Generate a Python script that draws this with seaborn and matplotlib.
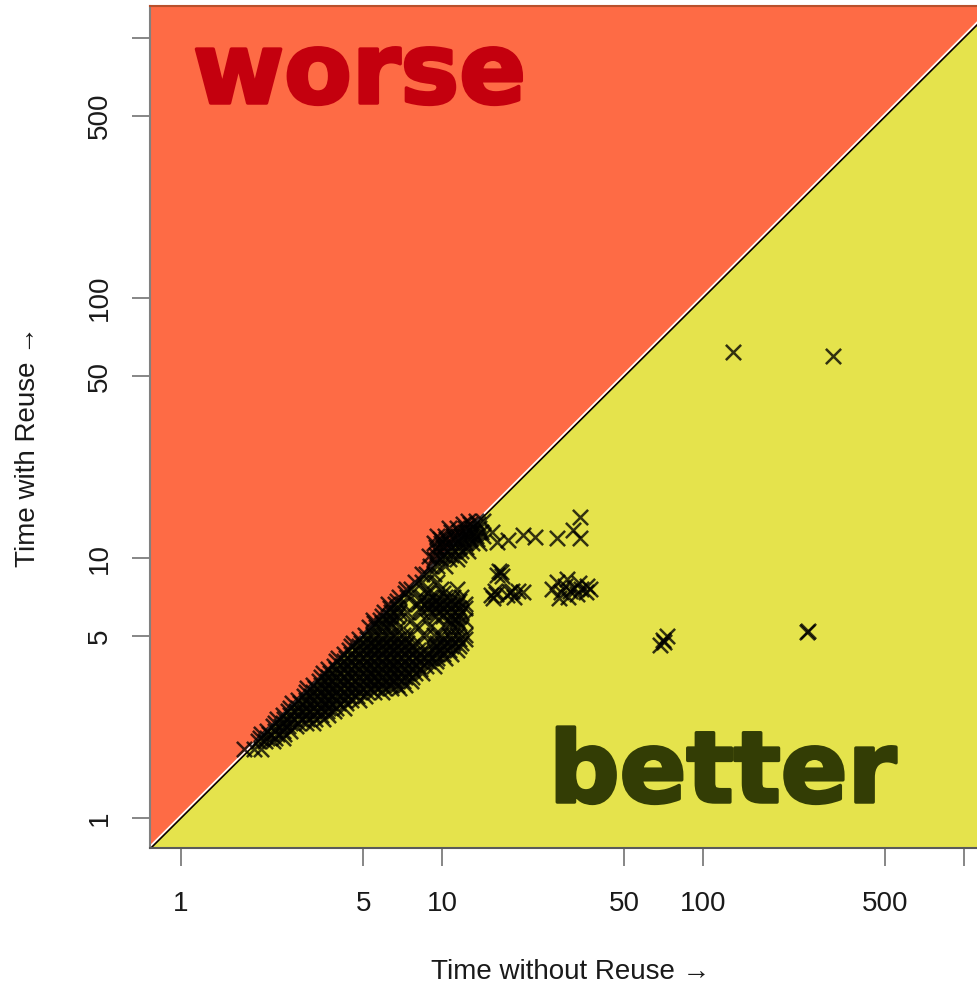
import matplotlib
matplotlib.use("Agg")
import matplotlib.pyplot as plt
from matplotlib import transforms
from matplotlib import patheffects
from matplotlib.ticker import FixedLocator, NullLocator
import pandas as pd
import seaborn as sns

# Solve times (seconds) of each benchmark run: (time without reuse, time with reuse).
# The dense band is listed row by row as (time with reuse, [times without reuse]).
cloud_low = [
    (1.85, [1.75, 1.9, 2.03]),
    (1.97, [1.97, 2.1, 2.25]),
    (2.03, [2.0, 2.14, 2.3, 2.45]),
    (2.1, [2.03, 2.17, 2.33, 2.49]),
    (2.17, [2.14, 2.3, 2.45, 2.62]),
    (2.25, [2.25, 2.41, 2.58, 2.76]),
    (2.33, [2.3, 2.45, 2.62, 2.8, 3.0, 3.2]),
    (2.41, [2.33, 2.49, 2.66, 2.85, 3.05, 3.26, 3.49]),
    (2.49, [2.45, 2.62, 2.8, 3.0, 3.2, 3.43, 3.67]),
    (2.58, [2.58, 2.76, 2.95, 3.15, 3.37, 3.61, 3.86]),
    (2.66, [2.62, 2.8, 3.0, 3.2, 3.43, 3.67, 3.93, 4.2]),
    (2.76, [2.66, 2.85, 3.05, 3.26, 3.49, 3.73, 4.0, 4.28]),
    (2.85, [2.8, 3.0, 3.2, 3.43, 3.67, 3.93, 4.2, 4.5, 4.8]),
    (2.95, [2.95, 3.15, 3.37, 3.61, 3.86, 4.13, 4.42, 4.73, 5.06]),
    (3.05, [3.0, 3.2, 3.43, 3.67, 3.93, 4.2, 4.5, 4.8, 5.15, 5.5, 5.9]),
    (3.15, [3.05, 3.26, 3.49, 3.73, 4.0, 4.28, 4.58, 4.9, 5.24, 5.6, 6.0, 6.4, 6.86]),
]

cloud_mid = [
    (3.26, [3.2, 3.43, 3.67, 3.93, 4.2, 4.5, 4.8, 5.15, 5.5, 5.9, 6.3, 6.75, 7.2]),
    (3.37, [3.37, 3.61, 3.86, 4.13, 4.42, 4.73, 5.06, 5.42, 5.8, 6.2, 6.63, 7.1, 7.6]),
    (3.49, [3.43, 3.67, 3.93, 4.2, 4.5, 4.8, 5.15, 5.5, 5.9, 6.3, 6.75, 7.2, 7.7]),
    (3.61, [3.49, 3.73, 4.0, 4.28, 4.58, 4.9, 5.24, 5.6, 6.0, 6.4, 6.86, 7.34, 7.85, 8.4]),
    (3.73, [3.67, 3.93, 4.2, 4.5, 4.8, 5.15, 5.5, 5.9, 6.3, 6.75, 7.2, 7.7, 8.25]),
    (3.86, [3.86, 4.13, 4.42, 4.73, 5.06, 5.42, 5.8, 6.2, 6.63, 7.1, 7.6, 8.1, 8.7, 9.3]),
    (4.0, [3.93, 4.2, 4.5, 4.8, 5.15, 5.5, 5.9, 6.3, 6.75, 7.2, 7.7, 8.25, 8.85, 9.45]),
    (4.13, [4.0, 4.28, 4.58, 4.9, 5.24, 5.6, 6.0, 6.4, 6.86, 7.34, 7.85, 8.4, 9.0, 9.6, 10.3]),
    (4.28, [4.2, 4.5, 4.8, 5.15, 5.5, 5.9, 6.3, 6.75, 7.2, 7.7, 8.25, 8.85, 9.45, 10.1, 10.8]),
    (4.42, [4.42, 4.73, 5.06, 5.42, 5.8, 6.2, 6.63, 7.1, 7.6, 8.1, 8.7, 9.3, 9.95, 10.6, 11.4]),
    (4.58, [4.5, 4.8, 5.15, 5.5, 5.9, 6.3, 6.75, 7.2, 7.7, 9.45, 10.1, 10.8, 11.6]),
    (4.73, [4.58, 4.9, 5.24, 5.6, 6.0, 6.4, 6.86, 7.34, 7.85, 9.0, 9.6, 10.3, 11.0, 11.8]),
    (4.9, [4.8, 5.15, 5.5, 5.9, 6.3, 6.75, 7.2, 10.1, 10.8, 11.6, 12.2]),
    (5.06, [5.06, 5.42, 5.8, 6.2, 6.63, 7.1, 7.6, 8.7, 9.3, 9.95, 10.6, 11.4, 12.2]),
]

cloud_upper = [
    (5.42, [5.24, 5.6, 6.0, 6.4, 6.86, 7.85, 9.0, 10.3, 11.0, 11.8]),
    (5.6, [5.5, 5.9, 6.3, 10.8, 11.6]),
    (5.8, [5.42, 5.8, 6.2, 6.63, 7.6, 8.7, 10.6, 11.4, 12.2]),
    (6.0, [5.9, 6.3, 6.75, 9.45, 10.1, 10.8, 11.6]),
    (6.2, [6.0, 6.4, 6.86, 7.34, 8.4, 9.0, 9.6, 10.3, 11.0, 11.8]),
    (6.4, [6.3, 6.75, 8.25, 8.85, 9.45, 10.1, 10.8, 11.6, 12.2]),
    (6.63, [6.2, 6.63, 7.1, 8.1, 8.7, 9.3, 9.95, 10.6, 11.4, 12.2]),
    (6.86, [6.75, 8.25, 8.85, 9.45, 10.1, 10.8, 11.6]),
    (7.1, [6.86, 7.34, 8.4, 9.0, 9.6, 10.3, 11.0, 11.8]),
    (7.34, [7.2, 8.85, 10.1]),
    (7.6, [7.3, 7.6, 8.7, 9.95, 11.4]),
    (8.1, [7.85, 8.4, 9.6]),
    (8.7, [8.4, 8.7, 9.3]),
    (9.3, [9.0, 9.6, 10.3]),
    (9.95, [9.3, 9.95, 10.6, 11.4]),
    (10.2, [8.9]),
    (10.3, [9.45, 10.1, 10.8, 11.6]),
    (10.6, [9.6, 10.3, 11.0, 11.8, 12.6]),
    (11.0, [9.45, 10.1, 10.8, 11.6, 12.4]),
    (11.4, [9.3, 9.95, 10.6, 11.4, 12.2, 13.0, 13.9]),
    (11.8, [9.8, 10.4, 11.2, 12.0, 12.8, 13.6]),
    (12.2, [9.6, 10.3, 11.0, 11.8, 12.6, 13.5, 14.4]),
    (12.6, [10.8, 11.6, 12.4, 13.2, 14.1]),
    (13.0, [10.6, 11.4, 12.2, 13.0, 13.9]),
    (13.5, [12.0, 12.8, 13.7]),
    (13.9, [12.6, 13.5, 14.4]),
]

right_strip = [
    (16.2, 11.5), (17.9, 11.7), (15.5, 12.6), (20.4, 12.3), (22.7, 12.0),
    (27.6, 11.9), (31.8, 12.8), (33.8, 14.4), (33.8, 11.9),
]

right_clusters = [
    (16.2, 8.6), (16.8, 8.8), (16.5, 8.9), (17.0, 8.5),
    (15.4, 7.2), (15.9, 7.5), (15.7, 7.0), (16.1, 7.3),
    (17.8, 7.2), (18.5, 7.5), (18.8, 7.1), (18.2, 7.4),
    (19.6, 7.5), (20.5, 7.4),
    (26.5, 7.6), (27.5, 8.1), (28.5, 7.4), (29.5, 7.8), (30.0, 8.3),
    (31.0, 7.5), (32.0, 7.7), (33.0, 7.3), (34.0, 7.6), (35.5, 7.4),
    (37.0, 7.6), (28.0, 7.0), (30.5, 7.1), (36.0, 7.8), (33.5, 8.0),
]

outliers = [
    (130, 62), (315, 59.8), (250, 5.19), (252, 5.25),
    (70.3, 4.84), (73.0, 5.0), (68.5, 4.63), (71.0, 4.75),
]

x_ticks = [1, 5, 10, 50, 100, 500, 1000]
x_tick_labels = ["1", "5", "10", "50", "100", "500", ""]
y_ticks = [1, 5, 10, 50, 100, 500, 1000]
y_tick_labels = ["1", "5", "10", "50", "100", "500", ""]

WORSE_RED = "#FE6B45"
BETTER_YELLOW = "#E5E34C"


def expand(rows):
    return [(x, y) for y, xs in rows for x in xs]


points = (expand(cloud_low) + expand(cloud_mid) + expand(cloud_upper)
          + right_strip + right_clusters + outliers)
df = pd.DataFrame(points, columns=["without_reuse", "with_reuse"])

sns.set_style("ticks")
plt.rcParams["font.family"] = ["Liberation Sans", "DejaVu Sans"]

fig = plt.figure(figsize=(9.78, 9.9), dpi=100)
ax = fig.add_axes([150 / 978, 1 - 848 / 990, 828 / 978, 842 / 990])
ax.set_xscale("log")
ax.set_yscale("log")

# regions above / below the identity line
lo, hi = 0.3, 5000
ax.fill([lo, hi, lo], [lo, hi, hi], color=WORSE_RED, lw=0, zorder=0)
ax.fill([lo, hi, hi], [lo, hi, lo], color=BETTER_YELLOW, lw=0, zorder=0)
ax.plot([lo, hi], [lo, hi], color="black", lw=1.2, zorder=1)
shift = transforms.ScaledTranslation(-1.3 / 100, 1.3 / 100, fig.dpi_scale_trans)
ax.plot([lo, hi], [lo, hi], color="white", lw=1.2, zorder=1,
        transform=ax.transData + shift)

sns.scatterplot(data=df, x="without_reuse", y="with_reuse", marker="x", s=120,
                color="black", alpha=0.78, linewidth=1.8, ax=ax, zorder=3,
                legend=False)

ax.set_xlim(0.7606, 1131.6)
ax.set_ylim(0.767, 1327)

ax.xaxis.set_major_locator(FixedLocator(x_ticks))
ax.xaxis.set_minor_locator(NullLocator())
ax.set_xticklabels(x_tick_labels)
ax.yaxis.set_major_locator(FixedLocator(y_ticks))
ax.yaxis.set_minor_locator(NullLocator())
ax.set_yticklabels(y_tick_labels)

ax.tick_params(direction="out", length=13, width=1.1, color="#666666",
               labelsize=20, labelcolor="#1a1a1a")
ax.tick_params(axis="x", pad=18)
ax.tick_params(axis="y", pad=14, labelrotation=90)
for lab in ax.get_yticklabels():
    lab.set_verticalalignment("center")

ax.spines["right"].set_visible(False)
ax.spines["left"].set_color("#808080")
ax.spines["left"].set_linewidth(1.5)
ax.spines["bottom"].set_color("#5a5a5a")
ax.spines["bottom"].set_linewidth(1.5)
ax.spines["top"].set_color("#b8502c")
ax.spines["top"].set_linewidth(1.5)

ax.set_xlabel("Time without Reuse \u2192", fontsize=20, color="#1a1a1a")
ax.xaxis.set_label_coords((571 - 150) / 828, (848 - 972) / 842)
ax.xaxis.label.set_verticalalignment("center")
ax.set_ylabel("Time with Reuse \u2192", fontsize=20, color="#1a1a1a")
ax.yaxis.set_label_coords((28 - 150) / 828, (848 - 447) / 842)
ax.yaxis.label.set_verticalalignment("center")

word_style = dict(family="DejaVu Sans", weight="bold", fontsize=71,
                  ha="left", va="baseline")
fig.text(193 / 978, 1 - 103 / 990, "worse", color="#C4000E",
         path_effects=[patheffects.withStroke(linewidth=2.5, foreground="#C4000E")],
         **word_style)
fig.text(549 / 978, 1 - 802 / 990, "better", color="#333D05",
         path_effects=[patheffects.withStroke(linewidth=2.5, foreground="#333D05")],
         **word_style)

fig.savefig("out.png", dpi=100)
